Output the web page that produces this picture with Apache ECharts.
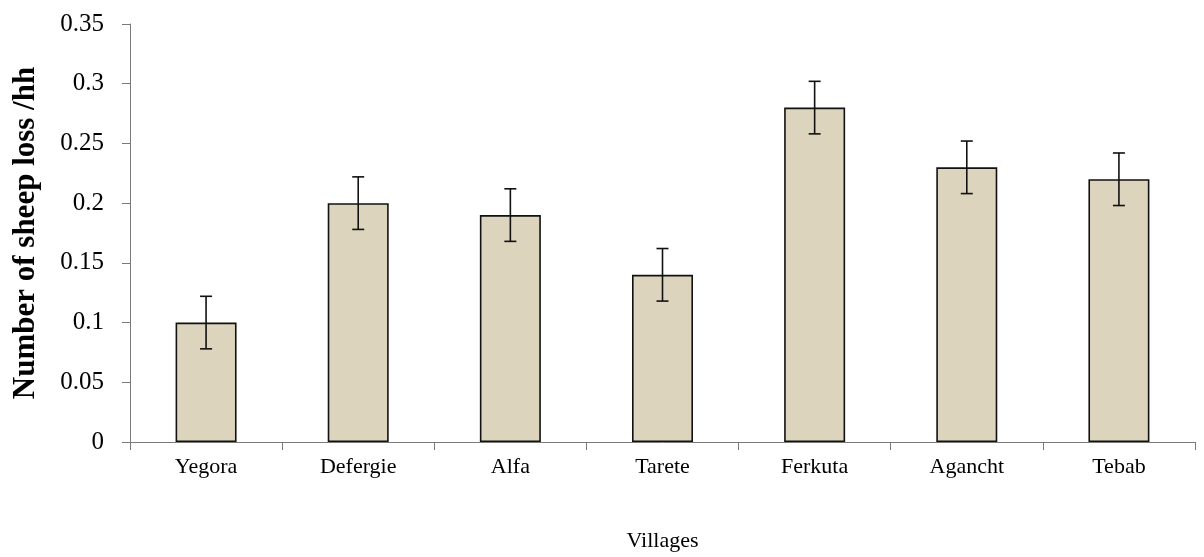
<!DOCTYPE html>
<html>
<head>
<meta charset="utf-8">
<script src="https://cdn.jsdelivr.net/npm/echarts@6/dist/echarts.min.js"></script>
<style>
html,body{margin:0;padding:0;background:#fff;}
#chart{width:1204px;height:557px;}
</style>
</head>
<body>
<div id="chart"></div>
<script>
const categories = ["Yegora", "Defergie", "Alfa", "Tarete", "Ferkuta", "Agancht", "Tebab"];
const values = [0.10, 0.20, 0.19, 0.14, 0.28, 0.23, 0.22];
const errors = [0.022, 0.022, 0.022, 0.022, 0.022, 0.022, 0.022];
const yTicks = [0, 0.05, 0.1, 0.15, 0.2, 0.25, 0.3, 0.35];
const yAxisTitle = "Number of sheep loss /hh";
const xAxisTitle = "Villages";

const errData = values.map((v, i) => [i, v - errors[i], v + errors[i]]);
const font = "'Liberation Serif', 'Times New Roman', serif";

const chart = echarts.init(document.getElementById('chart'), null, {renderer: 'canvas'});
chart.setOption({
  animation: false,
  backgroundColor: '#ffffff',
  grid: {left: 130, right: 9, top: 24, bottom: 113, containLabel: false},
  xAxis: {
    type: 'category',
    data: categories,
    name: xAxisTitle,
    nameLocation: 'middle',
    nameGap: 88,
    nameTextStyle: {fontFamily: font, fontSize: 22, color: '#000'},
    axisLine: {lineStyle: {color: '#7a7a7a', width: 1}},
    axisTick: {show: true, inside: false, length: 8, alignWithLabel: false, lineStyle: {color: '#7a7a7a'}},
    axisLabel: {fontFamily: font, fontSize: 22, color: '#000', margin: 14},
    splitLine: {show: false}
  },
  yAxis: {
    type: 'value',
    min: yTicks[0],
    max: yTicks[yTicks.length - 1],
    interval: 0.05,
    name: yAxisTitle,
    nameLocation: 'middle',
    nameGap: 89,
    nameRotate: 90,
    nameTextStyle: {fontFamily: font, fontSize: 31, fontWeight: 'bold', color: '#000'},
    axisLine: {show: true, lineStyle: {color: '#7a7a7a', width: 1}},
    axisTick: {show: true, inside: false, length: 8, lineStyle: {color: '#7a7a7a'}},
    axisLabel: {fontFamily: font, fontSize: 25, color: '#000', margin: 26,
      formatter: v => String(parseFloat(v.toFixed(2)))},
    splitLine: {show: false}
  },
  series: [
    {
      type: 'bar',
      data: values,
      barWidth: 61,
      itemStyle: {color: '#ddd4bd', borderColor: '#111', borderWidth: 1.6}
    },
    {
      type: 'custom',
      data: errData,
      z: 10,
      renderItem: function (params, api) {
        const x = api.value(0);
        const lo = api.coord([x, api.value(1)]);
        const hi = api.coord([x, api.value(2)]);
        const cap = 6;
        const style = {stroke: '#111', lineWidth: 1.6};
        return {
          type: 'group',
          children: [
            {type: 'line', shape: {x1: hi[0], y1: hi[1], x2: lo[0], y2: lo[1]}, style: style},
            {type: 'line', shape: {x1: hi[0] - cap, y1: hi[1], x2: hi[0] + cap, y2: hi[1]}, style: style},
            {type: 'line', shape: {x1: lo[0] - cap, y1: lo[1], x2: lo[0] + cap, y2: lo[1]}, style: style}
          ]
        };
      }
    }
  ]
});
</script>
</body>
</html>
